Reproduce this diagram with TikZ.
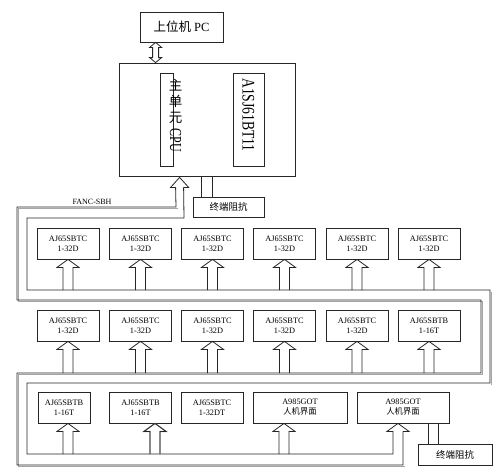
\documentclass[tikz,border=0pt]{standalone}
\usepackage{fontspec}
\setmainfont{Liberation Serif}
\newfontfamily\cjk{Noto Sans CJK SC}
\usetikzlibrary{calc}
\tikzset{
  lw/.style={line width=0.8pt, draw=black!85},
  modbox/.style={lw, minimum width=62pt, minimum height=31pt, inner sep=0pt, align=center,
    font=\fontsize{8.3}{10}\selectfont},
  resbox/.style={lw, inner sep=0pt, font=\cjk\fontsize{9.5}{10}\selectfont},
  arrline/.style={lw, line join=miter},
  busline/.style={lw, line join=miter},
  busshadow/.style={line width=1pt, draw=black!35, line join=miter}
}
\newcommand\hollowup[3][]{%
  \draw[arrline,#1] ($(#2 |- #3)+(-5,0)$) -- ($(#2)+(-5,8)$) -- ($(#2)+(-11,8)$) -- (#2)
    -- ($(#2)+(11,8)$) -- ($(#2)+(5,8)$) -- ($(#2 |- #3)+(5,0)$);
}
\begin{document}
\begin{tikzpicture}[x=1pt,y=-1pt]
\useasboundingbox (0,0) rectangle (500,469);
\fill[white] (0,0) rectangle (500,469);

% top part
\node[lw, minimum width=83pt, minimum height=30pt, inner sep=0pt,
  font=\fontsize{12.5}{13}\selectfont] (pc) at (181.5,27) {{\cjk 上位机} PC};
\node[lw, minimum width=176pt, minimum height=113pt, inner sep=0pt] (main) at (207,119.5) {};
\node[lw, minimum width=13pt, minimum height=93pt, inner sep=0pt] (cpu) at (166.5,119.5) {};
\node[inner sep=0pt, align=center, font=\cjk\fontsize{13.5}{16}\selectfont] (cputxt) at (175.5,101) {主\\单\\元};
\node[inner sep=0pt, rotate=-90, font=\fontsize{12}{12}\selectfont] (cpulat) at (175.5,140.5) {\scalebox{1}[1.4]{CPU}};
\node[lw, minimum width=31pt, minimum height=93pt, inner sep=0pt] (bt) at (248.5,119.5) {};
\node[inner sep=0pt, rotate=-90, font=\fontsize{13.6}{14}\selectfont] (bttxt) at (248.5,115) {\scalebox{1}[1.3]{A1SJ61BT11}};

% double arrow PC <-> main
\coordinate (dtop) at ($(pc.south west)+(16,0)$);
\coordinate (dbot) at (dtop |- main.north);
\draw[arrline] ($(dtop)+(-3,5)$) -- ($(dtop)+(-6,5)$) -- (dtop) -- ($(dtop)+(6,5)$) -- ($(dtop)+(3,5)$)
  -- ($(dbot)+(3,-5)$) -- ($(dbot)+(6,-5)$) -- (dbot) -- ($(dbot)+(-6,-5)$) -- ($(dbot)+(-3,-5)$) -- cycle;

% terminal resistor 1
\node[resbox, minimum width=71pt, minimum height=20pt] (r1) at (228.5,207) {终端阻抗};
\coordinate (r1a) at ($(main.south west)+(83,0)$);
\coordinate (r1b) at ($(main.south west)+(94,0)$);
\draw[lw] (r1a) -- (r1a |- r1.north) (r1b) -- (r1b |- r1.north);

\node[inner sep=0pt, font=\fontsize{8}{9}\selectfont] (fanc) at (92,201.5) {FANC-SBH};

% modules row 1
\foreach \i/\x in {1/68,2/140.5,3/212.5,4/284.5,5/357,6/429}{
  \node[modbox] (m1\i) at (\x,243.5) {AJ65SBTC\\1-32D};
}
% row 2
\foreach \i/\x in {1/68,2/140.5,3/212.5,4/284.5,5/357}{
  \node[modbox] (m2\i) at (\x,325.5) {AJ65SBTC\\1-32D};
}
\node[modbox] (m26) at (429,325.5) {AJ65SBTB\\1-16T};
% row 3
\node[modbox, minimum width=52pt] (m31) at (64,407.5) {AJ65SBTB\\1-16T};
\node[modbox] (m32) at (140.5,407.5) {AJ65SBTB\\1-16T};
\node[modbox] (m33) at (212,407.5) {AJ65SBTC\\1-32DT};
\node[modbox, minimum width=94pt] (m34) at (300,407.5) {A985GOT\\{\cjk 人机界面}};
\node[modbox, minimum width=92pt] (m35) at (403,407.5) {A985GOT\\{\cjk 人机界面}};

% terminal resistor 2
\node[resbox, minimum width=74pt, minimum height=21pt] (r2) at (455,454.5) {终端阻抗};
\coordinate (r2a) at ($(m35.south west)+(72,0)$);
\coordinate (r2b) at ($(m35.south west)+(82,0)$);
\draw[lw] (r2a) -- (r2a |- r2.north) (r2b) -- (r2b |- r2.north);

% bus levels
\coordinate (lv1) at (0,290);
\coordinate (lv2) at (0,373);
\coordinate (lv3) at (0,454);

% bus (snake)
\coordinate (ta) at ($(main.south west)+(61,1)$);
\coordinate (ba) at ($(m35.south)+(-5,0)$);
\draw[busshadow, shift={(1.5,1.5)}] (176,207) -- (17,207) -- (17,300) -- (481,300) -- (481,373)
  -- (17,373) -- (17,465) -- (403,465);
\draw[busshadow, shift={(1.5,1.5)}] (490,290) -- (490,383);
\draw[busline] ($(ta)+(4,10)$) -- (184,218) -- (27,218) -- (27,290) -- (490,290) -- (490,383)
  -- (27,383) -- (27,454) -- (393,454) -- ($(ba)+(-5,8)$);
\draw[busline] ($(ta)+(-4,10)$) -- (176,207) -- (17,207) -- (17,300) -- (481,300) -- (481,373)
  -- (17,373) -- (17,465) -- (403,465) -- ($(ba)+(5,8)$);
\draw[arrline] ($(ta)+(-4,10)$) -- ($(ta)+(-9,10)$) -- (ta) -- ($(ta)+(9,10)$) -- ($(ta)+(4,10)$);
\draw[arrline] ($(ba)+(-5,8)$) -- ($(ba)+(-11,8)$) -- (ba) -- ($(ba)+(11,8)$) -- ($(ba)+(5,8)$);

% module arrows
\foreach \i in {1,...,6}{
  \hollowup{m1\i.south}{lv1}
  \hollowup{m2\i.south}{lv2}
}
\coordinate (t31) at ($(m31.south)+(4,0)$);
\coordinate (t32) at ($(m32.south)+(14.5,0)$);
\coordinate (t34) at ($(m34.south)+(-16,0)$);
\hollowup{t31}{lv3}
\hollowup[draw=black!40, line width=1.2pt, shift={(1.5,1)}]{t32}{lv3}
\hollowup{t32}{lv3}
\hollowup{t34}{lv3}
\end{tikzpicture}
\end{document}
